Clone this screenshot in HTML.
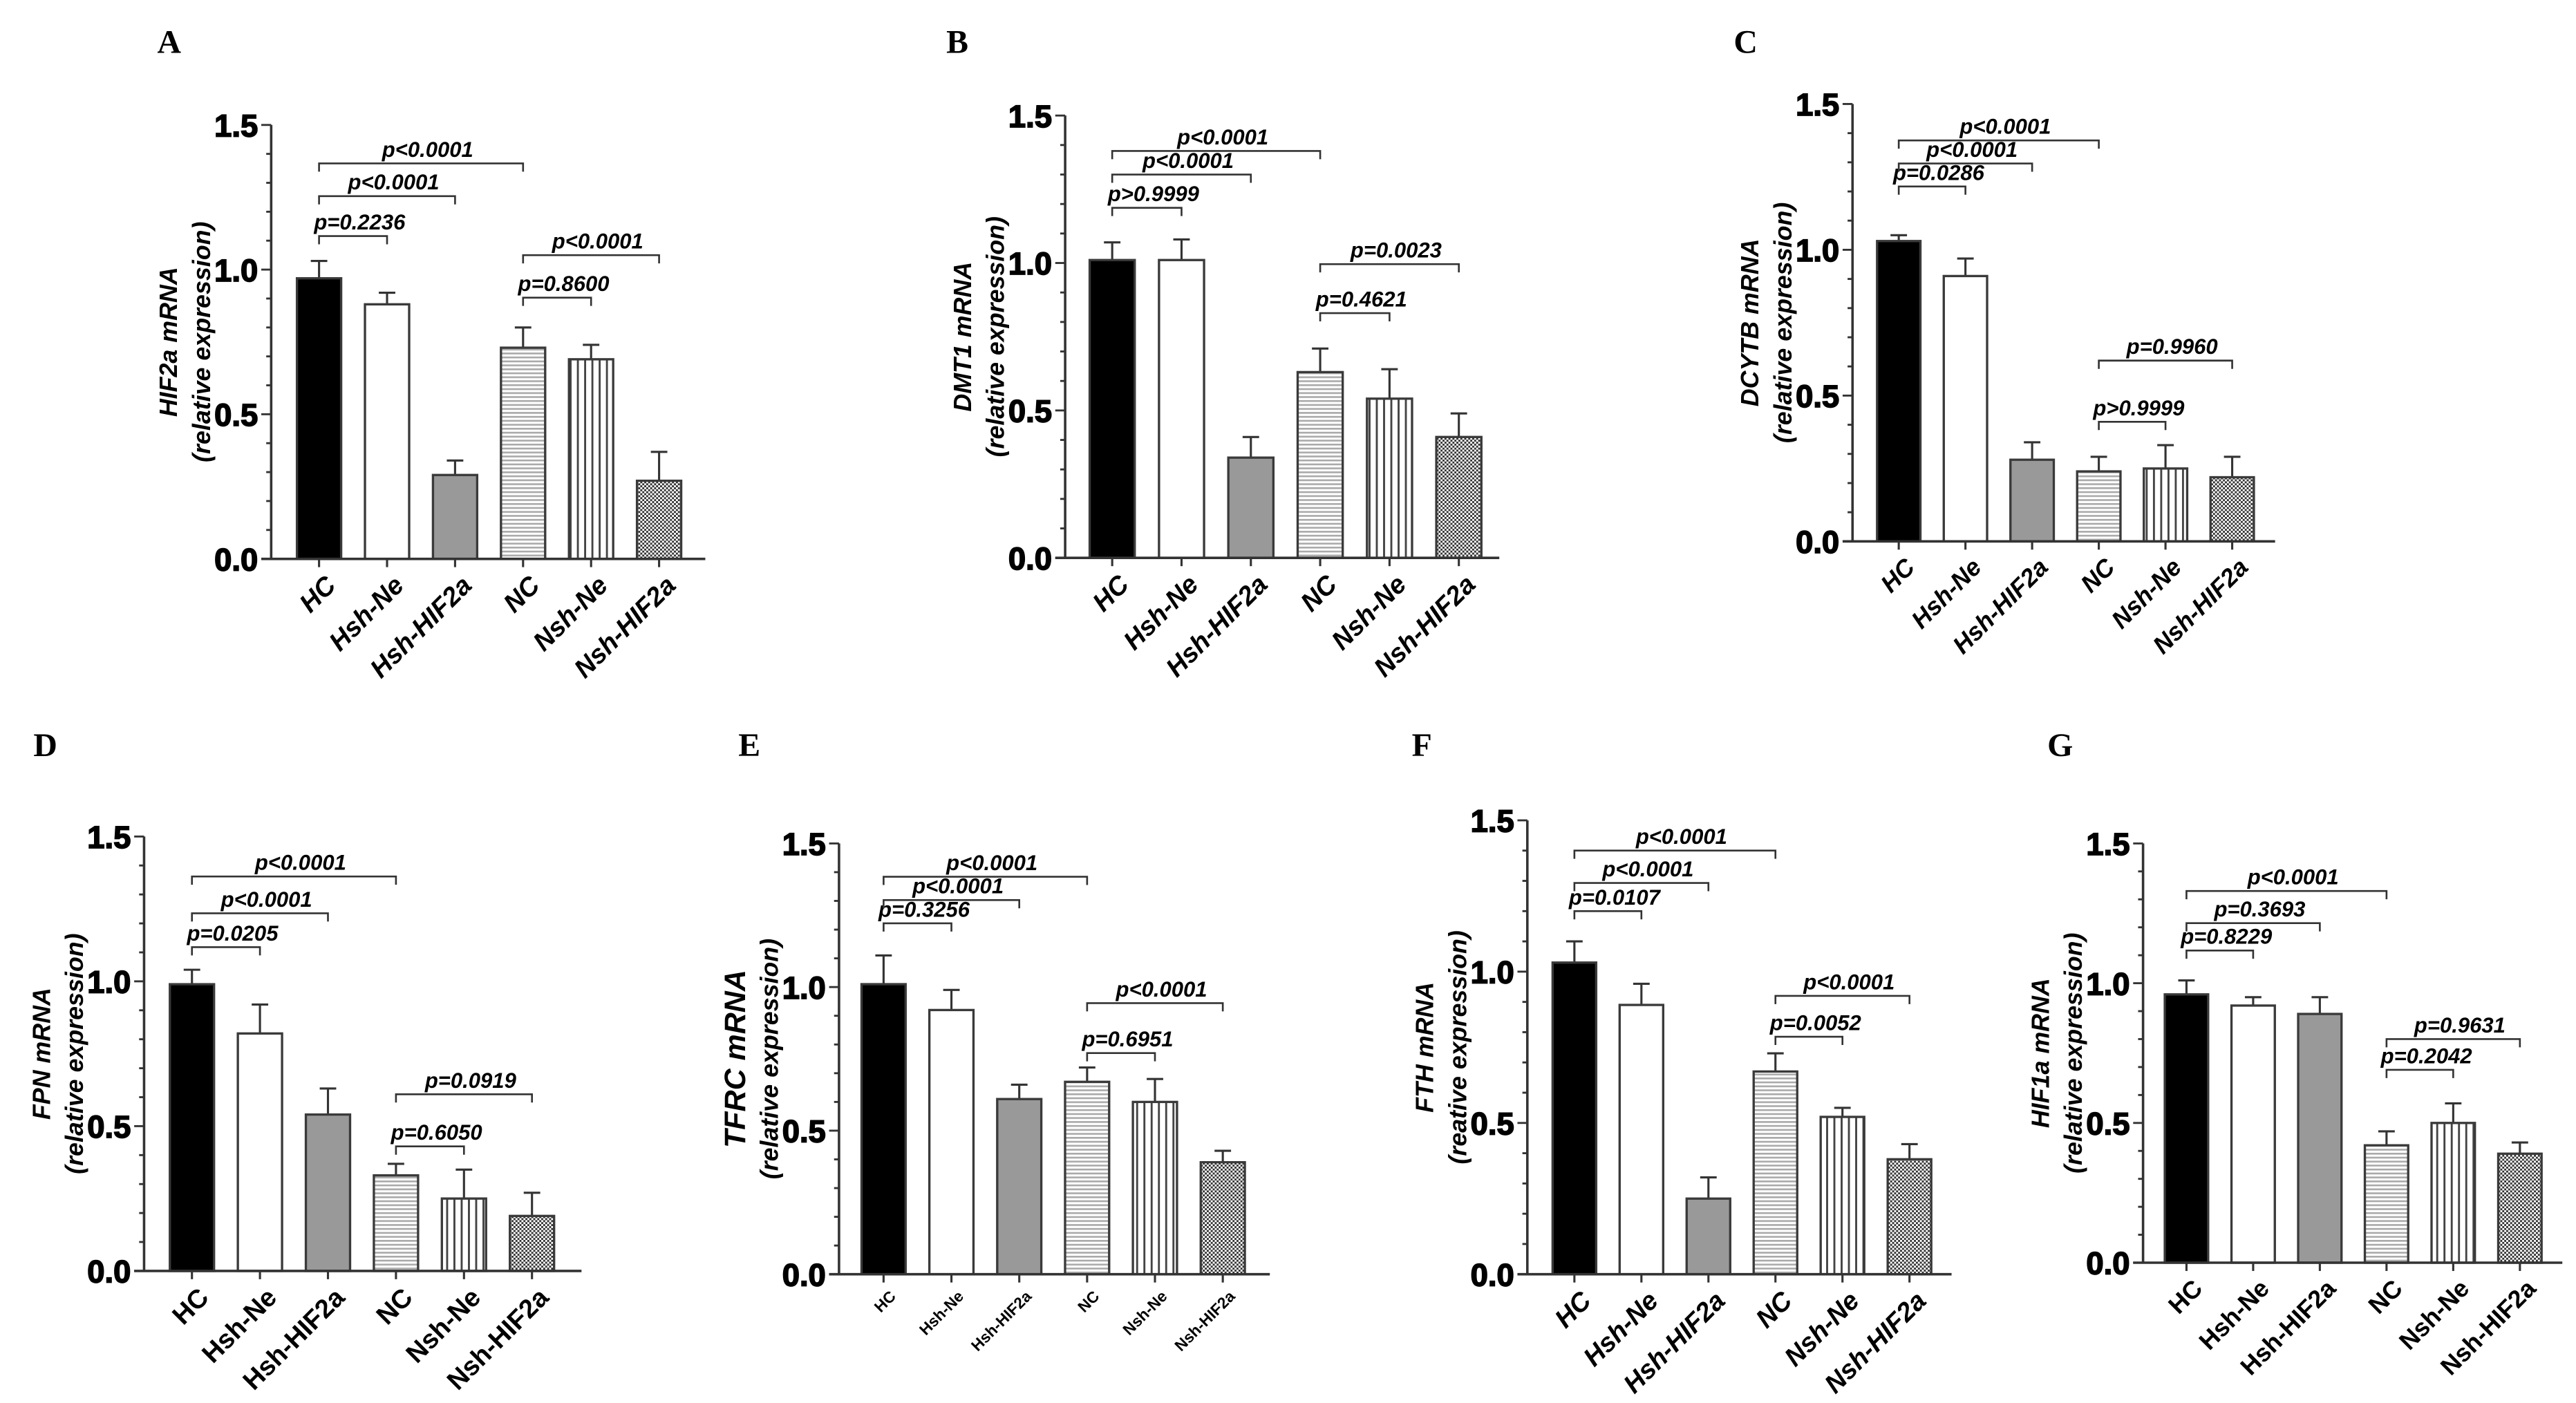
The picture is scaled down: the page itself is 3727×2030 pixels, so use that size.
<!DOCTYPE html>
<html><head><meta charset="utf-8"><style>
html,body{margin:0;padding:0;background:#fff;}
svg{display:block;}
text{font-family:"Liberation Sans",Arial,sans-serif;}
</style></head><body>
<svg id="fig" width="3727" height="2030" viewBox="0 0 1560 850" xmlns="http://www.w3.org/2000/svg">
<defs>
<pattern id="hstripe" width="4" height="2.4" patternUnits="userSpaceOnUse"><rect width="4" height="2.4" fill="#fff"/><rect y="0" width="4" height="1.1" fill="#aaa"/></pattern>
<pattern id="vstripe" width="4.4" height="4" patternUnits="userSpaceOnUse"><rect width="4.4" height="4" fill="#fff"/><rect x="1.6" width="1.2" height="4" fill="#444"/></pattern>
<pattern id="checker" width="2.4" height="2.4" patternUnits="userSpaceOnUse"><rect width="2.4" height="2.4" fill="#fff"/><rect width="1.2" height="1.2" fill="#333"/><rect x="1.2" y="1.2" width="1.2" height="1.2" fill="#333"/></pattern>
</defs>
</svg>
<script>
const categories = ["HC","Hsh-Ne","Hsh-HIF2a","NC","Nsh-Ne","Nsh-HIF2a"];
const yTicks = [0,0.5,1.0,1.5];
const yTickLabels = ["0.0","0.5","1.0","1.5"];

const meansA = [0.97,0.88,0.29,0.73,0.69,0.27];
const semsA  = [0.06,0.04,0.05,0.07,0.05,0.10];
const bracketsA = [[0,1,1.116,"p=0.2236"],[0,2,1.254,"p<0.0001"],[0,3,1.367,"p<0.0001"],[3,5,1.05,"p<0.0001"],[3,4,0.903,"p=0.8600"]];

const meansB = [1.01,1.01,0.34,0.63,0.54,0.41];
const semsB  = [0.06,0.07,0.07,0.08,0.10,0.08];
const bracketsB = [[0,1,1.187,"p>0.9999"],[0,2,1.30,"p<0.0001"],[0,3,1.38,"p<0.0001"],[3,5,0.996,"p=0.0023"],[3,4,0.83,"p=0.4621"]];

const meansC = [1.03,0.91,0.28,0.24,0.25,0.22];
const semsC  = [0.02,0.06,0.06,0.05,0.08,0.07];
const bracketsC = [[0,1,1.217,"p=0.0286"],[0,2,1.296,"p<0.0001"],[0,3,1.375,"p<0.0001"],[3,5,0.62,"p=0.9960"],[3,4,0.41,"p>0.9999"]];

const meansD = [0.99,0.82,0.54,0.33,0.25,0.19];
const semsD  = [0.05,0.10,0.09,0.04,0.10,0.08];
const bracketsD = [[0,1,1.118,"p=0.0205"],[0,2,1.235,"p<0.0001"],[0,3,1.362,"p<0.0001"],[3,5,0.61,"p=0.0919"],[3,4,0.43,"p=0.6050"]];

const meansE = [1.01,0.92,0.61,0.67,0.60,0.39];
const semsE  = [0.10,0.07,0.05,0.05,0.08,0.04];
const bracketsE = [[0,1,1.222,"p=0.3256"],[0,2,1.303,"p<0.0001"],[0,3,1.384,"p<0.0001"],[3,5,0.944,"p<0.0001"],[3,4,0.77,"p=0.6951"]];

const meansF = [1.03,0.89,0.25,0.67,0.52,0.38];
const semsF  = [0.07,0.07,0.07,0.06,0.03,0.05];
const bracketsF = [[0,1,1.20,"p=0.0107"],[0,2,1.293,"p<0.0001"],[0,3,1.40,"p<0.0001"],[3,5,0.92,"p<0.0001"],[3,4,0.785,"p=0.0052"]];

const meansG = [0.96,0.92,0.89,0.42,0.50,0.39];
const semsG  = [0.05,0.03,0.06,0.05,0.07,0.04];
const bracketsG = [[0,1,1.117,"p=0.8229"],[0,2,1.215,"p=0.3693"],[0,3,1.33,"p<0.0001"],[3,5,0.80,"p=0.9631"],[3,4,0.69,"p=0.2042"]];

const panels = [
 {id:"a",letter:"A",lx:95,ly:32,ax:164,yt:75.7,yb:338.6,xe:427,c0:193,sp:41.2,title:"HIF2a mRNA",sub:"(relative expression)",tf:15,lf:16,li:true,means:meansA,sems:semsA,br:bracketsA},
 {id:"b",letter:"B",lx:573,ly:32,ax:645,yt:70,yb:338,xe:908,c0:673.5,sp:42,title:"DMT1 mRNA",sub:"(relative expression)",tf:15,lf:16,li:true,means:meansB,sems:semsB,br:bracketsB},
 {id:"c",letter:"C",lx:1050,ly:32,ax:1122,yt:63,yb:328,xe:1378,c0:1150,sp:40.4,title:"DCYTB mRNA",sub:"(relative expression)",tf:15,lf:15,li:true,means:meansC,sems:semsC,br:bracketsC},
 {id:"d",letter:"D",lx:20,ly:458,ax:87,yt:506.8,yb:770,xe:352,c0:116,sp:41.2,title:"FPN mRNA",sub:"(relative expression)",tf:15,lf:16,li:false,means:meansD,sems:semsD,br:bracketsD},
 {id:"e",letter:"E",lx:447,ly:458,ax:508,yt:511,yb:772,xe:769,c0:535,sp:41.1,title:"TFRC mRNA",sub:"(relative expression)",tf:18,lf:9.5,li:false,means:meansE,sems:semsE,br:bracketsE},
 {id:"f",letter:"F",lx:855,ly:458,ax:925,yt:497,yb:772,xe:1182,c0:953.5,sp:40.6,title:"FTH mRNA",sub:"(reative expression)",tf:15,lf:16,li:true,means:meansF,sems:semsF,br:bracketsF},
 {id:"g",letter:"G",lx:1240,ly:458,ax:1298,yt:511,yb:765,xe:1552,c0:1324.3,sp:40.4,title:"HIF1a mRNA",sub:"(relative expression)",tf:15,lf:15,li:false,means:meansG,sems:semsG,br:bracketsG}
];
const fills = ["#000","#fff","#999","url(#hstripe)","url(#vstripe)","url(#checker)"];
const svg = document.getElementById("fig");
const NS = "http://www.w3.org/2000/svg";
function mk(tag, attrs, parent){const e=document.createElementNS(NS,tag);for(const k in attrs)e.setAttribute(k,attrs[k]);parent.appendChild(e);return e;}

panels.forEach(p=>{
  const g = mk("g",{},svg);
  
  
  const yS = v => p.yb - (v/1.5)*(p.yb-p.yt);
  const xS = i => p.c0 + i*p.sp;
  const bw = p.sp*0.65;
  const L = mk("text",{x:p.lx,y:p.ly,"font-size":20,"font-weight":"bold",style:"font-family:'Liberation Serif',serif"},g);
  L.textContent=p.letter;
  
  
  const cy=(p.yt+p.yb)/2;
  const t1 = mk("text",{x:0,y:0,transform:`translate(${p.ax-57},${cy}) rotate(-90)`,"text-anchor":"middle","font-size":p.tf,"font-weight":"bold","font-style":"italic"},g);
  t1.textContent=p.title;
  
  
  const t2 = mk("text",{x:0,y:0,transform:`translate(${p.ax-37},${cy}) rotate(-90)`,"text-anchor":"middle","font-size":15,"font-weight":"bold","font-style":"italic"},g);
  t2.textContent=p.sub;
  
  
  p.means.forEach((m,i)=>{
    const cx=xS(i), top=yS(m), errTop=yS(m+p.sems[i]);
    const eb = mk("line",{x1:cx,x2:cx,y1:top,y2:errTop,stroke:"#333","stroke-width":1.3},g);
    
    
    mk("line",{x1:cx-5,x2:cx+5,y1:errTop,y2:errTop,stroke:"#333","stroke-width":1.3},g);
    const r = mk("rect",{x:cx-bw/2,y:top,width:bw,height:p.yb-top,fill:fills[i],stroke:"#3a3a3a","stroke-width":1.4},g);
    
    
    const lb = mk("text",{transform:`translate(${cx+3},${p.yb+9}) rotate(-45)`,"text-anchor":"end","dominant-baseline":"hanging","font-size":p.lf,"font-weight":"bold","font-style":p.li?"italic":"normal"},g);
    lb.textContent=categories[i];
    
    
    mk("line",{x1:cx,x2:cx,y1:p.yb,y2:p.yb+5,stroke:"#333","stroke-width":1.3},g);
  });
  const ya = mk("line",{x1:p.ax,x2:p.ax,y1:p.yt,y2:p.yb,stroke:"#333","stroke-width":1.5},g);
  
  
  const xa = mk("line",{x1:p.ax-6,x2:p.xe,y1:p.yb,y2:p.yb,stroke:"#333","stroke-width":1.5},g);
  
  
  for(let k=0;k<=15;k++){
    const v=k/10, y=yS(v), maj=(k%5===0);
    mk("line",{x1:p.ax-(maj?6:3),x2:p.ax,y1:y,y2:y,stroke:"#333","stroke-width":1.2},g);
  }
  yTicks.forEach((v,k)=>{
    const tl = mk("text",{x:p.ax-8,y:yS(v)+7,"text-anchor":"end","font-size":19,"font-weight":"bold",stroke:"#000","stroke-width":0.7},g);
    tl.textContent=yTickLabels[k];
    
    
  });
  p.br.forEach(b=>{
    const x1=xS(b[0]), x2=xS(b[1]), y=yS(b[2]);
    const pl = mk("polyline",{points:`${x1},${y+5} ${x1},${y} ${x2},${y} ${x2},${y+5}`,fill:"none",stroke:"#333","stroke-width":1.1},g);
    
    
    const pt = mk("text",{x:(x1+x2)/2+4,y:y-4,"text-anchor":"middle","font-size":13,"font-weight":"bold","font-style":"italic"},g);
    pt.textContent=b[3];
    
    
  });
});
</script>
</body></html>
